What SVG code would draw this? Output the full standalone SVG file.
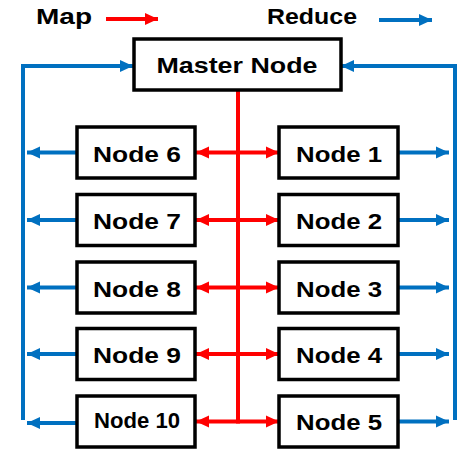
<svg xmlns="http://www.w3.org/2000/svg" width="474" height="461" viewBox="0 0 474 461">
<style>
.box{fill:#fff;stroke:#000;stroke-width:3.5}
.t{font-family:"Liberation Sans",Arial,sans-serif;font-weight:bold;font-size:22px;fill:#000;text-anchor:middle}
.red{stroke:#FF0000;stroke-width:4;fill:none}
.blue{stroke:#0070C0;stroke-width:4;fill:none}
.ra{marker-end:url(#ar)}
.ba{marker-end:url(#ab)}
</style>
<defs>
<marker id="ar" markerUnits="userSpaceOnUse" markerWidth="14" markerHeight="14" viewBox="0 0 14 14" refX="13" refY="7" orient="auto"><path d="M0,1 L13,7 L0,13 z" fill="#FF0000"/></marker>
<marker id="ab" markerUnits="userSpaceOnUse" markerWidth="14" markerHeight="14" viewBox="0 0 14 14" refX="13" refY="7" orient="auto"><path d="M0,1 L13,7 L0,13 z" fill="#0070C0"/></marker>
</defs>
<rect width="474" height="461" fill="#fff"/>
<g id="legend">
<text class="t" x="64" y="24" font-size="19" textLength="56" lengthAdjust="spacingAndGlyphs">Map</text>
<line class="red ra" x1="106" y1="19" x2="158" y2="19"/>
<text class="t" x="312" y="24" font-size="19" textLength="90" lengthAdjust="spacingAndGlyphs">Reduce</text>
<line class="blue ba" x1="379" y1="20" x2="432" y2="20"/>
</g>
<g id="connectors">
<path class="red" d="M238,90 V421.5"/>
<line class="red ra" x1="238" y1="152.5" x2="196" y2="152.5"/>
<line class="red ra" x1="238" y1="220" x2="196" y2="220"/>
<line class="red ra" x1="238" y1="287.5" x2="196" y2="287.5"/>
<line class="red ra" x1="238" y1="354" x2="196" y2="354"/>
<line class="red ra" x1="240" y1="421.5" x2="196" y2="421.5"/>
<line class="red ra" x1="238" y1="152.5" x2="279" y2="152.5"/>
<line class="red ra" x1="238" y1="220" x2="279" y2="220"/>
<line class="red ra" x1="238" y1="287.5" x2="279" y2="287.5"/>
<line class="red ra" x1="238" y1="354" x2="279" y2="354"/>
<line class="red ra" x1="236" y1="421.5" x2="279" y2="421.5"/>
<path class="blue ba" d="M23,420 V66 H133"/>
<path class="blue ba" d="M455,420 V66 H341"/>
<line class="blue ba" x1="77" y1="152.5" x2="27" y2="152.5"/>
<line class="blue ba" x1="77" y1="220" x2="27" y2="220"/>
<line class="blue ba" x1="77" y1="287.5" x2="27" y2="287.5"/>
<line class="blue ba" x1="77" y1="354" x2="27" y2="354"/>
<line class="blue ba" x1="77" y1="423" x2="27" y2="423"/>
<line class="blue ba" x1="398" y1="152.5" x2="449" y2="152.5"/>
<line class="blue ba" x1="398" y1="220" x2="449" y2="220"/>
<line class="blue ba" x1="398" y1="287.5" x2="449" y2="287.5"/>
<line class="blue ba" x1="398" y1="354" x2="449" y2="354"/>
<line class="blue ba" x1="398" y1="421.5" x2="449" y2="421.5"/>
</g>
<g id="master"><rect class="box" x="134" y="39" width="207" height="51"/><text class="t" x="237" y="73" textLength="161" lengthAdjust="spacingAndGlyphs">Master Node</text></g>
<g id="node6"><rect class="box" x="77" y="127" width="118" height="51"/><text class="t" x="137" y="161.5" textLength="88" lengthAdjust="spacingAndGlyphs">Node 6</text></g>
<g id="node7"><rect class="box" x="77" y="194.5" width="118" height="51"/><text class="t" x="137" y="229" textLength="88" lengthAdjust="spacingAndGlyphs">Node 7</text></g>
<g id="node8"><rect class="box" x="77" y="262" width="118" height="51"/><text class="t" x="137" y="296.5" textLength="88" lengthAdjust="spacingAndGlyphs">Node 8</text></g>
<g id="node9"><rect class="box" x="77" y="328.5" width="118" height="51"/><text class="t" x="137" y="363" textLength="88" lengthAdjust="spacingAndGlyphs">Node 9</text></g>
<g id="node10"><rect class="box" x="77" y="396" width="118" height="51"/><text class="t" x="137" y="428" font-size="18" textLength="86" lengthAdjust="spacingAndGlyphs">Node 10</text></g>
<g id="node1"><rect class="box" x="279" y="127" width="119" height="51"/><text class="t" x="339" y="161.5" textLength="86" lengthAdjust="spacingAndGlyphs">Node 1</text></g>
<g id="node2"><rect class="box" x="279" y="194.5" width="119" height="51"/><text class="t" x="339" y="229" textLength="86" lengthAdjust="spacingAndGlyphs">Node 2</text></g>
<g id="node3"><rect class="box" x="279" y="262" width="119" height="51"/><text class="t" x="339" y="296.5" textLength="86" lengthAdjust="spacingAndGlyphs">Node 3</text></g>
<g id="node4"><rect class="box" x="279" y="328.5" width="119" height="51"/><text class="t" x="339" y="363" textLength="86" lengthAdjust="spacingAndGlyphs">Node 4</text></g>
<g id="node5"><rect class="box" x="279" y="396" width="119" height="51"/><text class="t" x="339" y="430" textLength="86" lengthAdjust="spacingAndGlyphs">Node 5</text></g>
</svg>
